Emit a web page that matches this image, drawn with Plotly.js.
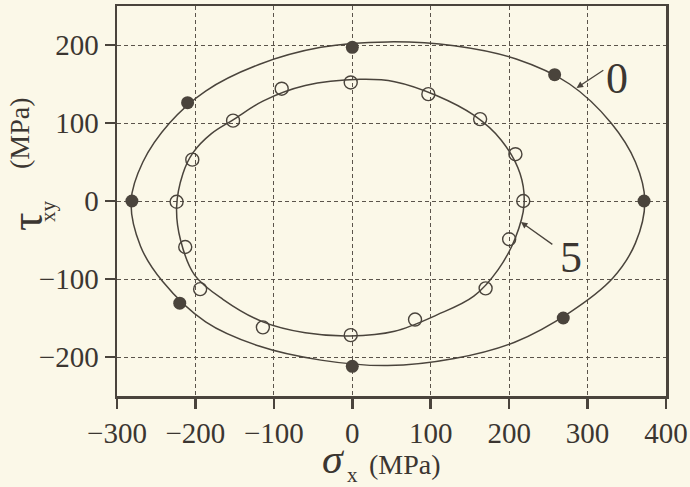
<!DOCTYPE html>
<html>
<head>
<meta charset="utf-8">
<script src="https://cdn.plot.ly/plotly-3.0.1.min.js"></script>
<style>
  html, body { margin: 0; padding: 0; background: #fbf8e8; }
  #chart { width: 690px; height: 487px; }
</style>
</head>
<body>
<div id="chart"></div>
<script>
// Measured points, cycle 0 (filled) and cycle 5 (open)
const pts0X = [0, -210, -281, -220, 0, 269, 372, 258];
const pts0Y = [197, 126, 0, -131, -212, -150, 0, 162];
const pts5X = [-2, -90, -152, -204, -224, -213, -194, -114, -2, 80, 170, 200, 218, 208, 163, 97];
const pts5Y = [152, 144, 103, 53, -1, -59, -113, -162, -172, -152, -112, -49, 0, 60, 105, 137];

// Fitted curves
const curve0X = [-282, -267, -233, -187, -119, -40, 45, 130, 209, 277, 330, 361, 373, 361, 332, 277, 207, 130, 45, -40, -119, -187, -242, -270, -282];
const curve0Y = [0, 50, 100, 141, 175, 197, 204, 199, 182, 150, 100, 50, 0, -54, -99, -143, -181, -202, -211, -204, -186, -155, -103, -58, 0];
const curve5X = [-224, -216, -203, -180, -152, -114, -60, 10, 54, 108, 155, 190, 214, 219, 208, 186, 155, 108, 54, -3, -60, -114, -165, -201, -219, -224];
const curve5Y = [-8, 35, 62, 86, 104, 128, 148, 156, 153, 135, 110, 78, 35, -5, -47, -88, -122, -146, -167, -173, -169, -155, -126, -95, -50, -8];

const xTicks = [-300, -200, -100, 0, 100, 200, 300, 400];
const yTicks = [-200, -100, 0, 100, 200];
const curveLabels = ['0', '5'];

const ink = '#4a443c';
const txt = '#3b3631';
const bg = '#fbf8e8';
const serif = 'Liberation Serif, DejaVu Serif, serif';

const traces = [
  { x: curve0X, y: curve0Y, mode: 'lines', line: { color: ink, width: 1.5, shape: 'spline', smoothing: 1 }, hoverinfo: 'skip', showlegend: false },
  { x: curve5X, y: curve5Y, mode: 'lines', line: { color: ink, width: 1.5, shape: 'spline', smoothing: 1 }, hoverinfo: 'skip', showlegend: false },
  { x: pts0X, y: pts0Y, mode: 'markers', marker: { size: 13, color: ink, line: { width: 0 } }, showlegend: false },
  { x: pts5X, y: pts5Y, mode: 'markers', marker: { size: 13, color: 'rgba(0,0,0,0)', line: { width: 1.4, color: ink } }, showlegend: false }
];

const fmt = v => v < 0 ? '\u2212' + Math.abs(v) : String(v);

// pixel helpers for placing the title pieces in paper coordinates
const L = 117, W = 549, B = 396, H = 390;
const px = v => (v - L) / W;
const py = v => (B - v) / H;

const layout = {
  width: 690, height: 487,
  margin: { l: 117, r: 24, t: 6, b: 91 },
  paper_bgcolor: bg, plot_bgcolor: bg,
  showlegend: false,
  xaxis: {
    range: [-300, 400], tickvals: xTicks, ticktext: xTicks.map(fmt),
    showgrid: true, gridcolor: '#5b544b', gridwidth: 1, griddash: '4px,3px',
    zeroline: false, showline: true, linecolor: ink, linewidth: 2.5, mirror: true,
    ticks: 'outside', ticklen: 10, tickwidth: 2.5, tickcolor: ink,
    tickfont: { family: serif, size: 29, color: txt }
  },
  yaxis: {
    range: [-250, 250], tickvals: yTicks, ticktext: yTicks.map(fmt),
    showgrid: true, gridcolor: '#5b544b', gridwidth: 1, griddash: '4px,3px',
    zeroline: false, showline: true, linecolor: ink, linewidth: 2.5, mirror: true,
    ticks: 'outside', ticklen: 10, tickwidth: 2.5, tickcolor: ink,
    tickfont: { family: serif, size: 29, color: txt }
  },
  annotations: [
    // x-axis title: σx (MPa)
    { xref: 'paper', yref: 'paper', x: px(333), y: py(459), xanchor: 'center', yanchor: 'middle', showarrow: false,
      text: '<i>σ</i>', font: { family: serif, size: 42, color: txt } },
    { xref: 'paper', yref: 'paper', x: px(352), y: py(475), xanchor: 'center', yanchor: 'middle', showarrow: false,
      text: 'x', font: { family: serif, size: 21, color: txt } },
    { xref: 'paper', yref: 'paper', x: px(405), y: py(464), xanchor: 'center', yanchor: 'middle', showarrow: false,
      text: '(MPa)', font: { family: serif, size: 28, color: txt } },
    // y-axis title: τxy (MPa)
    { xref: 'paper', yref: 'paper', x: px(26), y: py(222), xanchor: 'center', yanchor: 'middle', showarrow: false, textangle: -90,
      text: 'τ', font: { family: serif, size: 46, color: txt } },
    { xref: 'paper', yref: 'paper', x: px(48), y: py(211), xanchor: 'center', yanchor: 'middle', showarrow: false, textangle: -90,
      text: 'xy', font: { family: serif, size: 21, color: txt } },
    { xref: 'paper', yref: 'paper', x: px(19), y: py(133), xanchor: 'center', yanchor: 'middle', showarrow: false, textangle: -90,
      text: '(MPa)', font: { family: serif, size: 28, color: txt } },
    // curve labels
    { x: 338, y: 157, text: curveLabels[0], showarrow: false, font: { family: serif, size: 44, color: txt } },
    { x: 279, y: -73, text: curveLabels[1], showarrow: false, font: { family: serif, size: 44, color: txt } },
    // arrows
    { x: 286, y: 145, ax: 322, ay: 169, axref: 'x', ayref: 'y', text: '', showarrow: true, arrowhead: 2, arrowsize: 1, arrowwidth: 1.3, arrowcolor: ink },
    { x: 215, y: -27, ax: 257, ay: -57, axref: 'x', ayref: 'y', text: '', showarrow: true, arrowhead: 2, arrowsize: 1, arrowwidth: 1.3, arrowcolor: ink }
  ]
};

Plotly.newPlot('chart', traces, layout, { staticPlot: true, displayModeBar: false });
</script>
</body>
</html>
